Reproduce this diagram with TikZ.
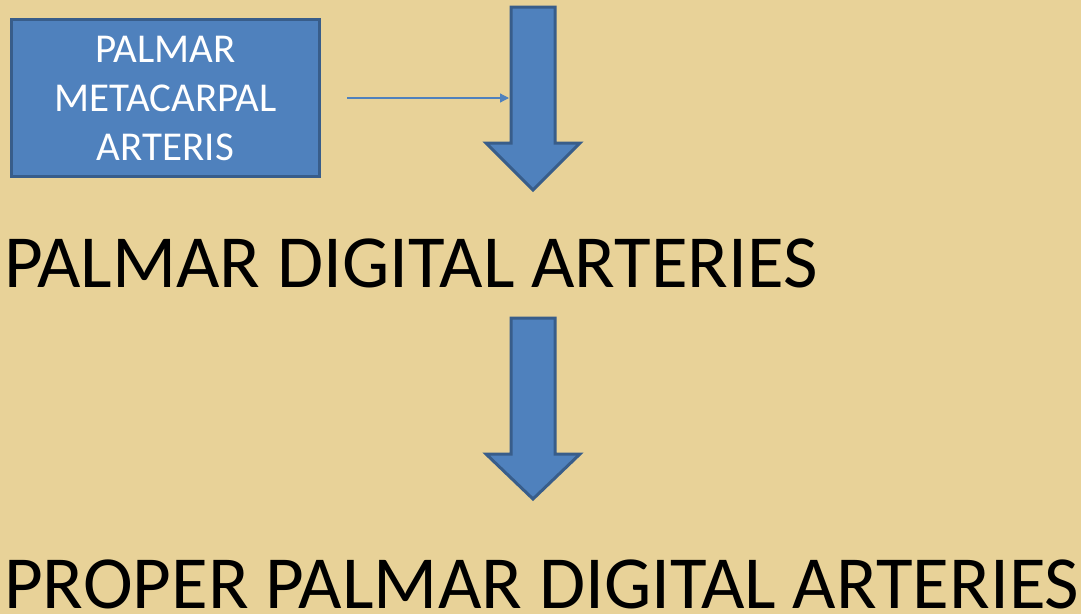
\documentclass[tikz,border=0pt]{standalone}
\usepackage{fontspec}
\setmainfont{Carlito}
\usetikzlibrary{positioning,arrows.meta,calc}
\definecolor{papyrus}{RGB}{232,210,152}
\definecolor{boxblue}{RGB}{79,129,189}
\definecolor{edgeblue}{RGB}{56,93,138}
\tikzset{
  bluebox/.style={draw=edgeblue,fill=boxblue,line width=3pt,text=white,align=center,
    font=\fontsize{41}{49}\selectfont,minimum width=308pt,minimum height=157pt,inner sep=0pt},
  bigarr/.style={draw=edgeblue,fill=boxblue,line width=3pt,line join=miter}, % block arrow
  thinarr/.style={-{Triangle[length=9pt,width=9pt]},draw=boxblue,line width=1.2pt},
  title/.style={font=\fontsize{75}{88}\selectfont,inner sep=0pt,text depth=0pt,anchor=base west},
}
\begin{document}
\begin{tikzpicture}[x=1pt,y=-1pt]
  \fill[papyrus] (0,0) rectangle (1081,614);
  \useasboundingbox (0,0) rectangle (1081,614);
  % metacarpal box
  \node[bluebox] (meta) at (165.5,98) {PALMAR\\METACARPAL\\ARTERIS};
  % block arrows
  \draw[bigarr] (511,7) -- (555,7) -- (555,143) -- (580,143) -- (533,190)
    -- (486,143) -- (511,143) -- cycle;
  \draw[bigarr] (511,318) -- (555,318) -- (555,454) -- (580,454) -- (533,499)
    -- (486,454) -- (511,454) -- cycle;
  \coordinate (thinstart) at (347,98);
  \coordinate (thinend) at (509,98);
  \draw[thinarr] (thinstart) -- (thinend);
  % headings
  \node[title] (digital) at (4,287) {PALMAR DIGITAL ARTERIES};
  \node[title] (proper) at (4,608) {PROPER PALMAR DIGITAL ARTERIES};
\end{tikzpicture}
\end{document}
